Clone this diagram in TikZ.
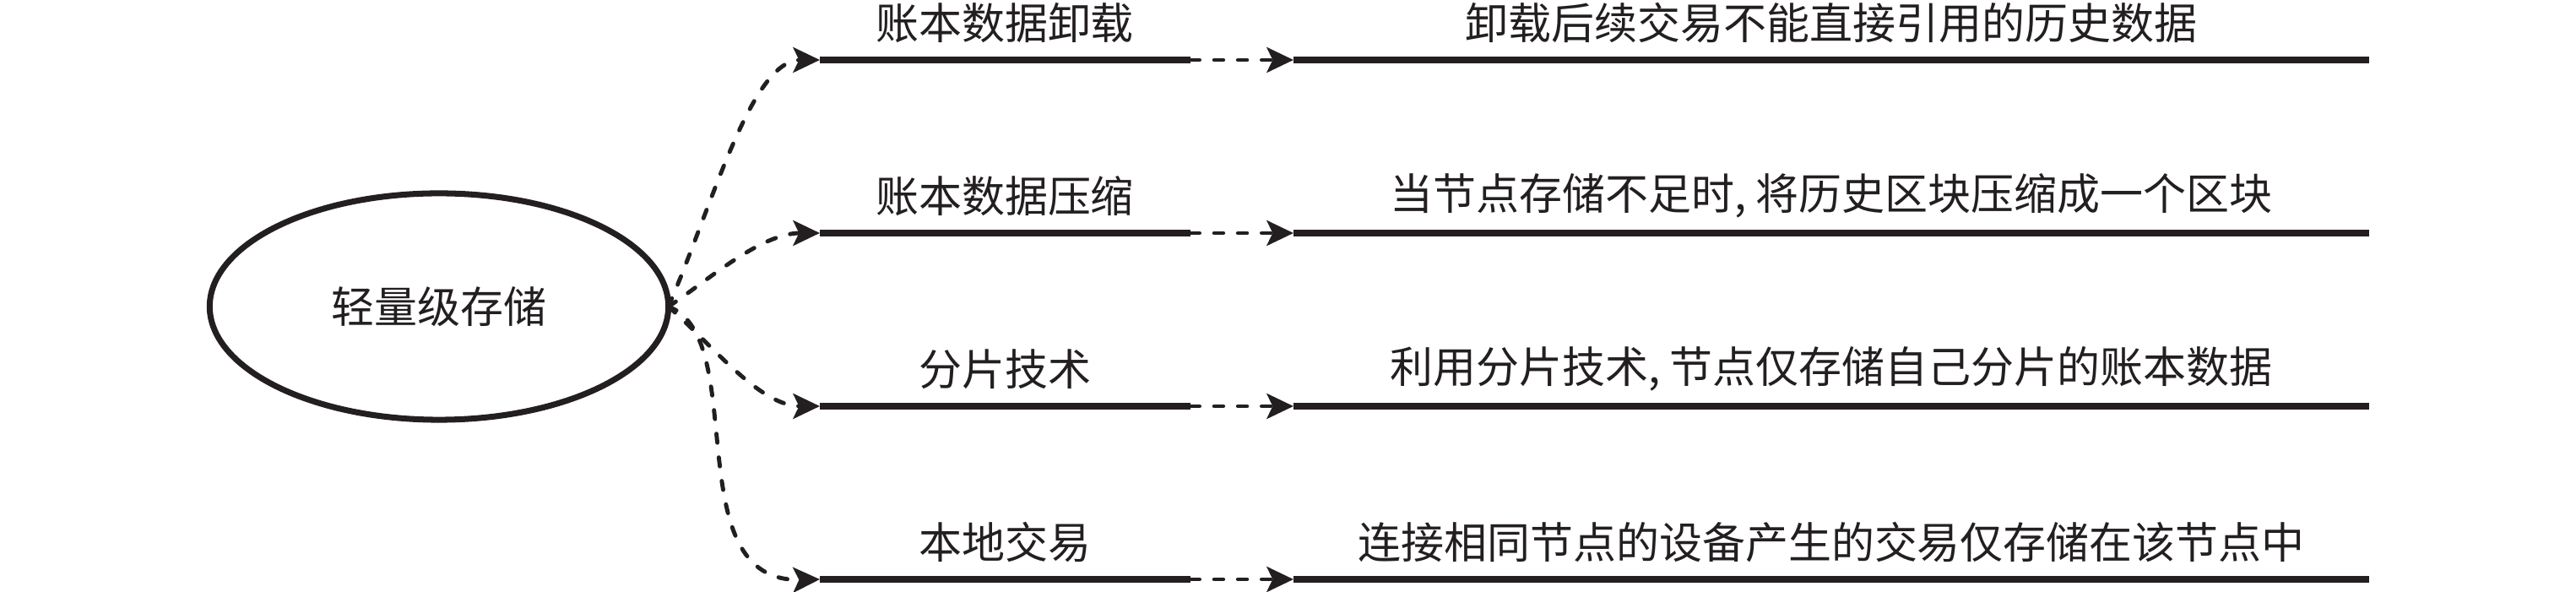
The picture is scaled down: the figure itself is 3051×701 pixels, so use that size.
\documentclass[tikz,border=0pt]{standalone}
\usepackage{fontspec}
\newfontfamily\cjk{Noto Sans CJK SC}
\usetikzlibrary{arrows.meta,shapes.geometric}
\definecolor{ink}{HTML}{231F20}
\begin{document}
\begin{tikzpicture}[x=0.01cm,y=-0.01cm,
  lbl/.style={font=\cjk\fontsize{14.5pt}{17pt}\selectfont, text=ink, inner sep=0pt},
  rootbox/.style={ellipse, draw=ink, line width=2pt, minimum width=5.43cm, minimum height=2.68cm,
    inner sep=0pt, outer sep=0pt, font=\cjk\fontsize{14.5pt}{17pt}\selectfont, text=ink},
  bar/.style={line width=2pt, draw=ink},
  dashto/.style={line width=1.4pt, draw=ink, dash pattern=on 3pt off 5pt, line cap=round,
    -{Stealth[length=9pt,width=8.5pt,inset=2pt]}}]
\useasboundingbox (0,0) rectangle (3051,701);
\node[rootbox] (root) at (520,363) {轻量级存储};
\foreach \i/\y/\a/\b in {1/71/{账本数据卸载}/{卸载后续交易不能直接引用的历史数据},
  2/276/{账本数据压缩}/{当节点存储不足时, 将历史区块压缩成一个区块},
  3/481/{分片技术}/{利用分片技术, 节点仅存储自己分片的账本数据},
  4/686/{本地交易}/{连接相同节点的设备产生的交易仅存储在该节点中}}{
  \coordinate (a\i) at (971,\y);
  \coordinate (b\i) at (1410,\y);
  \coordinate (c\i) at (1532,\y);
  \coordinate (d\i) at (2806,\y);
  \draw[bar] (a\i) -- (b\i);
  \draw[bar] (c\i) -- (d\i);
  \draw[dashto] (b\i) -- (c\i);
  \node[lbl] (l\i) at (1190,\y-44) {\a};
  \node[lbl] (r\i) at (2169,\y-44) {\b};
}
\draw[dashto] (root.east) .. controls (845,240) and (890,71) .. (a1);
\draw[dashto] (root.east) .. controls (835,335) and (900,276) .. (a2);
\draw[dashto] (root.east) .. controls (845,410) and (900,481) .. (a3);
\draw[dashto] (root.east) .. controls (890,400) and (800,690) .. (a4);
\end{tikzpicture}
\end{document}
